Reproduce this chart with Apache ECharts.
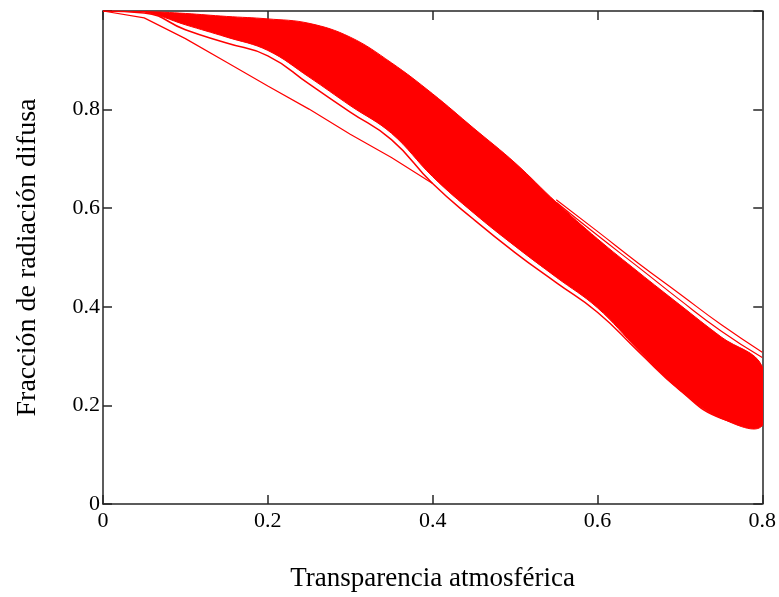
<!DOCTYPE html>
<html>
<head>
<meta charset="utf-8">
<script src="https://cdn.jsdelivr.net/npm/echarts@6/dist/echarts.min.js"></script>
<style>
  html, body { margin: 0; padding: 0; background: #fff; }
  #chart { width: 779px; height: 597px; }
</style>
</head>
<body>
<div id="chart"></div>
<script>
// Sampled transparency values (x) shared by the band curves
const transparency = [0, 0.05, 0.1, 0.15, 0.2, 0.25, 0.3, 0.35, 0.4, 0.45, 0.5, 0.55, 0.6, 0.65, 0.7, 0.75, 0.8];

// Dense family of curves: upper and lower edges of the solid red band
const bandUpper = [1.000, 0.999, 0.995, 0.989, 0.984, 0.975, 0.947, 0.895, 0.832, 0.762, 0.692, 0.612, 0.538, 0.470, 0.404, 0.339, 0.279];
const bandLower = [1.000, 0.998, 0.972, 0.947, 0.920, 0.866, 0.808, 0.752, 0.664, 0.590, 0.523, 0.460, 0.398, 0.312, 0.231, 0.174, 0.159];

// Lowest curve of the family, slightly apart from the solid band
const edgeLower = [1.000, 0.996, 0.962, 0.935, 0.909, 0.852, 0.795, 0.739, 0.650, 0.577, 0.510, 0.449, 0.389, 0.309, 0.231, 0.174, 0.159];

// Isolated near-straight curve at low transparency
const strayX = [0, 0.05, 0.1, 0.15, 0.2, 0.25, 0.3, 0.35, 0.4];
const strayY = [1.000, 0.986, 0.944, 0.896, 0.848, 0.801, 0.750, 0.703, 0.650];

// Two uppermost curves at high transparency
const topX = [0.55, 0.6, 0.65, 0.7, 0.75, 0.8];
const topLineA = [0.617, 0.553, 0.488, 0.426, 0.364, 0.308];
const topLineB = [0.612, 0.545, 0.480, 0.414, 0.351, 0.297];

// Axis ticks
const xTicks = [0, 0.2, 0.4, 0.6, 0.8];
const yTicks = [0, 0.2, 0.4, 0.6, 0.8, 1.0];

const RED = '#ff0000';
const AXIS = '#262626';
const FONT = '"Liberation Serif", "Times New Roman", serif';

const pairs = (xs, ys) => xs.map((x, i) => [x, ys[i]]);

const fmt = v => {
  const r = Math.round(v * 10) / 10;
  return r === 0 ? '0' : String(r);
};

const chart = echarts.init(document.getElementById('chart'), null, { renderer: 'canvas' });

const tickStyle = { show: true, inside: true, length: 9, lineStyle: { color: AXIS, width: 1.5 } };
const lineStyleAxis = { show: true, onZero: false, lineStyle: { color: AXIS, width: 1.5 } };

const xStep = xTicks[1] - xTicks[0];
const yStep = yTicks[1] - yTicks[0];

// Filled band: closed smoothed outline along the upper edge and back along the lower edge
function renderBand(params, api) {
  const top = transparency.map((x, i) => api.coord([x, bandUpper[i]]));
  const bottom = transparency.slice(1).map((x, i) => api.coord([x, bandLower[i + 1]])).reverse();
  return {
    type: 'polygon',
    shape: { points: top.concat(bottom), smooth: 0.4 },
    style: { fill: RED, stroke: RED, lineWidth: 1 }
  };
}

const curveStyle = w => ({ color: RED, width: w });

chart.setOption({
  animation: false,
  backgroundColor: '#fff',
  grid: { left: 103, right: 16, top: 11, bottom: 92, containLabel: false },
  xAxis: [
    {
      type: 'value', min: xTicks[0], max: xTicks[xTicks.length - 1], interval: xStep,
      axisLine: lineStyleAxis, axisTick: tickStyle, splitLine: { show: false },
      axisLabel: { color: '#000', fontFamily: FONT, fontSize: 22, margin: 6, formatter: fmt },
      name: 'Transparencia atmosférica', nameLocation: 'middle', nameGap: 61,
      nameTextStyle: { color: '#000', fontFamily: FONT, fontSize: 27 }
    },
    {
      type: 'value', position: 'top', min: xTicks[0], max: xTicks[xTicks.length - 1], interval: xStep,
      axisLine: lineStyleAxis, axisTick: tickStyle, splitLine: { show: false },
      axisLabel: { show: false }
    }
  ],
  yAxis: [
    {
      type: 'value', min: yTicks[0], max: yTicks[yTicks.length - 1], interval: yStep,
      axisLine: lineStyleAxis, axisTick: tickStyle, splitLine: { show: false },
      axisLabel: {
        color: '#000', fontFamily: FONT, fontSize: 22, margin: 3,
        formatter: v => (Math.round(v * 10) === 10 ? '' : fmt(v))
      },
      name: 'Fracción de radiación difusa', nameLocation: 'middle', nameGap: 61,
      nameTextStyle: { color: '#000', fontFamily: FONT, fontSize: 28 }
    },
    {
      type: 'value', position: 'right', min: yTicks[0], max: yTicks[yTicks.length - 1], interval: yStep,
      axisLine: lineStyleAxis, axisTick: tickStyle, splitLine: { show: false },
      axisLabel: { show: false }
    }
  ],
  series: [
    {
      name: 'band', type: 'custom', renderItem: renderBand,
      data: [[transparency[0], bandUpper[0]]], clip: true, z: 2
    },
    {
      name: 'edgeLower', type: 'line', data: pairs(transparency, edgeLower),
      showSymbol: false, smooth: 0.5, lineStyle: curveStyle(1.5), z: 3
    },
    {
      name: 'stray', type: 'line', data: pairs(strayX, strayY),
      showSymbol: false, lineStyle: curveStyle(1.2), z: 3
    },
    {
      name: 'topA', type: 'line', data: pairs(topX, topLineA),
      showSymbol: false, smooth: 0.5, lineStyle: curveStyle(1.2), z: 3
    },
    {
      name: 'topB', type: 'line', data: pairs(topX, topLineB),
      showSymbol: false, smooth: 0.5, lineStyle: curveStyle(1.2), z: 3
    }
  ]
});
</script>
</body>
</html>
